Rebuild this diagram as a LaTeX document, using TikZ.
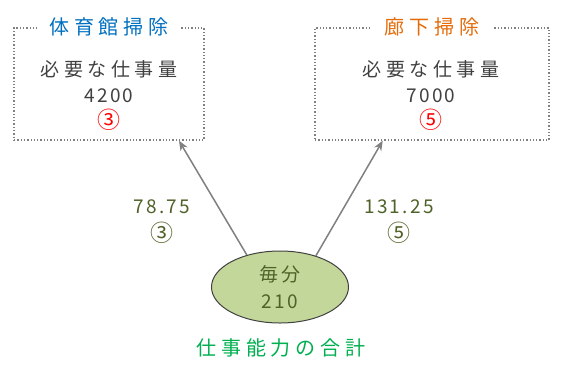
\documentclass[tikz,border=0pt]{standalone}
\usepackage{fontspec}
\setmainfont{Noto Sans CJK JP}
\newfontfamily\jp[LetterSpace=24]{Noto Sans CJK JP}
\newfontfamily\jpnum[LetterSpace=12]{Noto Sans CJK JP}
\usetikzlibrary{arrows.meta,positioning,shapes.geometric}
\definecolor{txtgray}{RGB}{64,64,64}
\definecolor{linegray}{RGB}{128,128,128}
\definecolor{gymblue}{RGB}{0,112,192}
\definecolor{hallorange}{RGB}{228,108,10}
\definecolor{olive}{RGB}{79,98,40}
\definecolor{sumfill}{RGB}{196,215,155}
\definecolor{sumgreen}{RGB}{0,176,80}
\newcommand\circnum[1]{{\fontsize{23}{23}\selectfont #1}}

\begin{document}
\begin{tikzpicture}[x=1pt,y=-1pt,
  area/.style={draw=linegray,line width=1.3pt,dotted,minimum height=112pt},
  title/.style={fill=white,inner xsep=11pt,inner ysep=1pt,font=\fontsize{20}{22}\selectfont\jp},
  need/.style={align=center,text=txtgray,font=\fontsize{19}{26}\selectfont},
  share/.style={align=center,text=olive,font=\fontsize{19}{28}\selectfont},
  flow/.style={draw=linegray,line width=1.5pt,-{Stealth[length=10pt,width=8pt]}}]
\useasboundingbox (0,0) rectangle (568,368);
% the two cleaning jobs
\node[area,minimum width=190pt] (gym) at (109,84) {};
\node[title,text=gymblue] (gymtitle) at (gym.north) {体育館掃除};
\node[need] (gymneed) at (109,96) {{\jp 必要な仕事量}\\{\jpnum 4200}\\{\color{red}\circnum{③}}};
\node[area,minimum width=234pt] (hall) at (432,84) {};
\node[title,text=hallorange,inner xsep=15pt] (halltitle) at (hall.north) {廊下掃除};
\node[need] (hallneed) at (431,96) {{\jp 必要な仕事量}\\{\jpnum 7000}\\{\color{red}\circnum{⑤}}};
% total work per minute
\node[ellipse,draw=txtgray,line width=1pt,fill=sumfill,minimum width=137pt,minimum height=72pt,
  text=olive,align=center,font=\fontsize{19}{27}\selectfont] (sum) at (280,287) {{\jpnum 毎分}\\{\jpnum 210}};
\node[text=sumgreen,font=\fontsize{20}{22}\selectfont\jp] (sumlabel) at (281,348) {仕事能力の合計};
% split of the work
\draw[flow] (sum.136) -- (gym.-39);
\draw[flow] (sum.41) -- (hall.-131);
\node[share] (gymshare) at (162,222) {{\jpnum 78.75}\\\circnum{③}};
\node[share] (hallshare) at (399,222) {{\jpnum 131.25}\\\circnum{⑤}};
\end{tikzpicture}
\end{document}
